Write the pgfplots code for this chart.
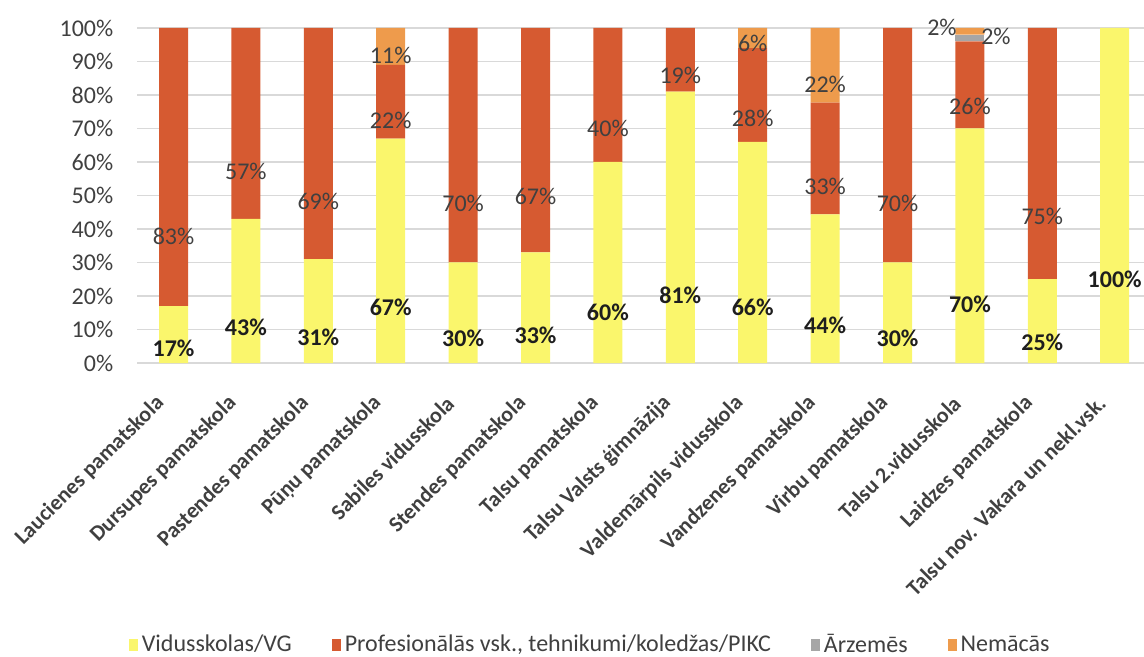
\documentclass[border=0pt]{standalone}
\usepackage{fontspec}
\setmainfont{Carlito}
\usepackage{pgfplots}
\usepackage{pgfplotstable}
\pgfplotsset{compat=1.18}
\definecolor{cvid}{HTML}{FAF66C}
\definecolor{cprof}{HTML}{D65A31}
\definecolor{carz}{HTML}{A6A6A6}
\definecolor{cnem}{HTML}{EE9B4C}
\definecolor{ctxt}{HTML}{404040}
\definecolor{cdark}{HTML}{1E1E1E}
\definecolor{cgrid}{HTML}{D9D9D9}
\pgfplotstableread{
x vid prof arz nem adx ady ndx ndy
0 17 83 0 0 0 0 0 0
1 43 57 0 0 0 0 0 0
2 31 69 0 0 0 0 0 0
3 67 22 0 11 0 0 0 0
4 30 70 0 0 0 0 0 0
5 33 67 0 0 0 0 0 0
6 60 40 0 0 0 0 0 0
7 81 19 0 0 0 0 0 0
8 66 28 0 6 0 0 0 0
9 44.4 33.3 0 22.3 0 0 0 0
10 30 70 0 0 0 0 0 0
11 70 26 2 2 13 1.5 -14 3
12 25 75 0 0 0 0 0 0
13 100 0 0 0 0 0 0 0
}\data
\pgfplotsset{
 lab/.style={
   visualization depends on={\thisrow{#1}\as\rawv},
   nodes near coords={\ifdim\rawv pt>0.1pt \pgfmathprintnumber[fixed,precision=0]{\rawv}\%\fi},
   every node near coord/.append style={anchor=center, yshift=-0.25*\rawv*1.675pt, font=\fontsize{12}{14}\selectfont, text=ctxt, inner sep=0pt},
 },
}
\begin{document}
\begin{tikzpicture}
\begin{axis}[
  at={(0pt,0pt)}, anchor=south west,
  ybar stacked, bar width=14.5pt,
  x=36.2pt, y=1.675pt,
  xmin=-0.5, xmax=13.4, ymin=0, ymax=100,
  axis line style={draw=none},
  major tick length=0pt,
  ymajorgrids, grid style={cgrid, line width=0.6pt},
  ytick={0,10,...,100},
  yticklabel={\pgfmathprintnumber{\tick}\%},
  /pgf/number format/assume math mode=true,
  yticklabel style={text=ctxt, font=\fontsize{12}{14}\selectfont, xshift=-8.5pt},
  xtick={0,...,13},
  xticklabels={{Laucienes pamatskola},{Dursupes pamatskola},{Pastendes pamatskola},{Pūņu pamatskola},{Sabiles vidusskola},{Stendes pamatskola},{Talsu pamatskola},{Talsu Valsts ģimnāzija},{Valdemārpils vidusskola},{Vandzenes pamatskola},{Virbu pamatskola},{Talsu 2.vidusskola},{Laidzes pamatskola},{Talsu nov. Vakara un nekl.vsk.}},
  xticklabel style={xshift=-4pt, yshift=-16pt, rotate=45, anchor=east, text=ctxt, font=\fontsize{11}{13}\selectfont\bfseries},
  legend columns=4,
  legend image code/.code={\fill[#1] (0pt,-2.8pt) rectangle (4.5pt,2.8pt);},
  legend style={draw=none, at={(axis description cs:0.451,0)}, anchor=center, yshift=-141pt,
    font=\fontsize{12}{14}\selectfont, text=ctxt,
    /tikz/every even column/.append style={column sep=18pt}},
]
\addplot[fill=cvid, draw=none, lab=vid, every node near coord/.append style={font=\fontsize{12}{14}\selectfont\bfseries, text=cdark}] table[x=x, y=vid] {\data};
\addplot[fill=cprof, draw=none, lab=prof] table[x=x, y=prof] {\data};
\addplot[fill=carz, draw=none, lab=arz,
  visualization depends on={\thisrow{adx}\as\adx},
  visualization depends on={\thisrow{ady}\as\ady},
  every node near coord/.append style={xshift=\adx pt, yshift=\ady pt}] table[x=x, y=arz] {\data};
\addplot[fill=cnem, draw=none, lab=nem,
  visualization depends on={\thisrow{ndx}\as\ndx},
  visualization depends on={\thisrow{ndy}\as\ndy},
  every node near coord/.append style={xshift=\ndx pt, yshift=\ndy pt}] table[x=x, y=nem] {\data};
\legend{Vidusskolas/VG, {Profesionālās vsk., tehnikumi/koledžas/PIKC}, Ārzemēs, Nemācās}
\end{axis}
\pgfresetboundingbox
\path[use as bounding box] (-68.65pt,-147pt) rectangle (503.35pt,181.5pt);
\end{tikzpicture}
\end{document}
